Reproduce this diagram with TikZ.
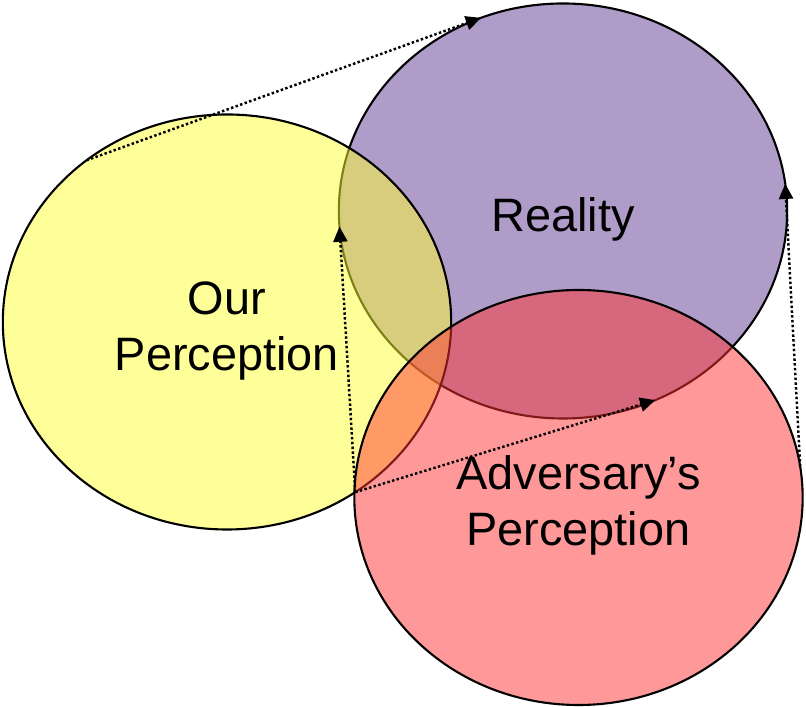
\documentclass[tikz,border=0pt]{standalone}
\usepackage{fontspec}
\setmainfont{Liberation Sans}
\usepackage{tikz}
\definecolor{vennYellow}{HTML}{FFFF33}
\definecolor{vennPurple}{HTML}{B09CC8}
\definecolor{vennRed}{HTML}{FF3333}
\usetikzlibrary{arrows.meta,shapes.geometric}
\newcommand\lift{\rule{0pt}{1.07em}}

\begin{document}
\begin{tikzpicture}[x=0.03cm,y=0.03cm, every node/.style={font=\fontsize{40}{48}\selectfont},
  lens/.style={ellipse, draw=black, line width=1.8pt, minimum width=13.45cm, minimum height=12.45cm,
    inner sep=0pt, outer sep=0pt, align=center, text opacity=1},
  link/.style={line width=2.1pt, dash pattern=on 2.1pt off 2pt, -{Triangle[length=13pt,width=12pt]}}]
  \useasboundingbox (0,0) rectangle (806,707);
  \node[lens, fill=vennPurple] (reality) at (563,496) {\lift Reality};
  \node[lens, fill=vennYellow, fill opacity=0.5] (ours) at (227,385) {\lift Our\\Perception};
  \node[lens, fill=vennRed, fill opacity=0.5] (theirs) at (578.5,209.5) {\lift Adversary’s\\Perception};
  \foreach \from/\to in {ours.131/reality.113, ours.-53/reality.184, ours.-53/reality.-64, theirs.8/reality.7} {
    \draw[link] (\from) -- (\to);
  }
\end{tikzpicture}
\end{document}
